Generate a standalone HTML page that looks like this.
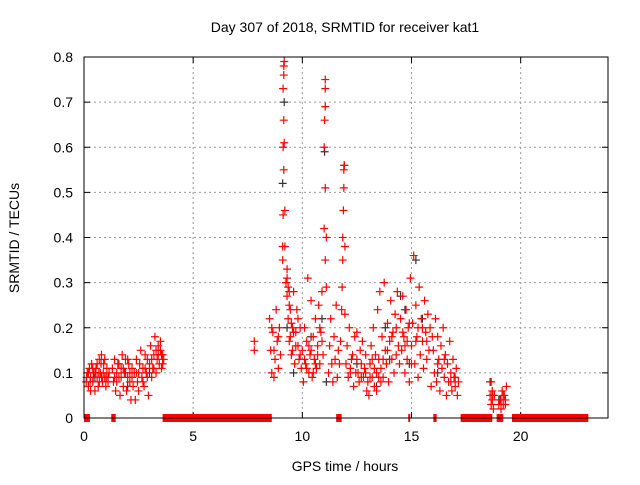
<!DOCTYPE html>
<html><head><meta charset="utf-8"><style>
body{margin:0;background:#fff;}
svg text{font-family:"Liberation Sans",sans-serif;font-size:14px;fill:#000;}
</style></head><body>
<svg id="chart" width="640" height="480" xmlns="http://www.w3.org/2000/svg">
<text x="345" y="32" text-anchor="middle">Day 307 of 2018, SRMTID for receiver kat1</text>
<text transform="translate(19,238) rotate(-90)" text-anchor="middle">SRMTID / TECUs</text>
<text x="345" y="471" text-anchor="middle">GPS time / hours</text>
<g id="grid"></g>
<g id="ticks"></g>
<g id="zeros"></g>
<g id="black"></g>
<g id="red"></g>
<rect x="84" y="57" width="524" height="361" fill="none" stroke="#000" stroke-width="1"/>
</svg>
<script>
const xTicks=[0,5,10,15,20];
const yTicks=[0,0.1,0.2,0.3,0.4,0.5,0.6,0.7,0.8];
const yTickLabels=["0","0.1","0.2","0.3","0.4","0.5","0.6","0.7","0.8"];
const zeroStart=[0,1.25,3.6,11.55,14.85,16.0,17.25,18.9,19.6];
const zeroEnd=[0.27,1.45,8.6,11.8,14.92,16.15,18.7,19.2,23.1];
const redPoints=[
[0.1,.08],[0.15,.10],[0.2,.07],[0.25,.11],[0.3,.09],[0.35,.12],[0.4,.08],[0.45,.10],[0.5,.06],[0.55,.11],[0.6,.09],[0.65,.07],[0.7,.13],[0.75,.10],[0.8,.14],[0.85,.08],[0.9,.12],[0.95,.09],[1.0,.07],[1.05,.11],[1.1,.08],[1.15,.10],
[0.2,.10],[0.3,.06],[0.4,.11],[0.6,.12],[0.7,.08],[0.8,.09],[0.95,.13],[1.1,.09],
[0.12,.09],[0.28,.08],[0.42,.09],[0.52,.10],[0.68,.10],[0.78,.12],[0.88,.10],[1.02,.09],
[1.3,.11],[1.35,.08],[1.4,.13],[1.45,.06],[1.5,.10],[1.55,.12],[1.6,.09],[1.65,.05],[1.7,.11],[1.75,.14],[1.8,.07],[1.85,.10],[1.9,.13],[1.95,.06],[2.0,.09],[2.05,.12],[2.1,.08],[2.15,.04],[2.2,.11],[2.25,.07],
[1.4,.09],[1.6,.12],[1.8,.11],[2.0,.13],[2.1,.10],[1.5,.08],[1.7,.09],[1.9,.10],[2.2,.09],
[2.3,.10],[2.35,.04],[2.4,.13],[2.45,.08],[2.5,.06],[2.55,.12],[2.6,.15],[2.65,.09],[2.7,.11],[2.75,.07],[2.8,.14],[2.85,.10],[2.9,.13],[2.95,.05],[3.0,.12],[3.05,.16],[3.1,.09],[3.15,.11],[3.2,.14],[3.25,.18],[3.3,.10],[3.35,.13],[3.4,.16],[3.45,.12],[3.5,.15],[3.55,.11],[3.6,.14],[3.65,.13],
[2.5,.10],[2.7,.08],[2.9,.09],[3.1,.13],[3.3,.15],[3.5,.17],[3.6,.12],[2.4,.10],[2.8,.11],[3.2,.11],[3.4,.14],[3.55,.14],
[7.8,.17],[7.8,.15],
[8.5,.22],[8.55,.15],[8.6,.10],[8.65,.19],[8.7,.09],[8.75,.13],[8.8,.24],[8.85,.17],[8.9,.11],[8.95,.20],[9.0,.14],[8.6,.20],[8.7,.15],[8.9,.18],
[9.1,.35],[9.1,.38],[9.12,.45],[9.15,.55],[9.12,.60],[9.15,.66],[9.12,.73],[9.15,.76],[9.15,.78],[9.17,.79],[9.2,.46],[9.2,.38],[9.17,.61],
[9.25,.30],[9.3,.27],[9.3,.33],[9.35,.22],[9.4,.25],[9.45,.18],[9.5,.21],[9.55,.15],[9.6,.28],[9.65,.12],[9.7,.19],[9.75,.24],[9.8,.16],[9.85,.13],[9.9,.20],[9.95,.11],[9.4,.17],[9.5,.14],[9.6,.19],[9.8,.22],
[9.3,.31],[9.35,.29],[9.4,.28],[9.45,.24],[9.55,.20],[9.7,.16],[9.9,.14],
[10.0,.15],[10.05,.08],[10.1,.20],[10.15,.12],[10.2,.17],[10.25,.31],[10.3,.10],[10.35,.14],[10.4,.26],[10.45,.09],[10.5,.18],[10.55,.13],[10.6,.22],[10.65,.11],[10.7,.16],[10.75,.25],[10.8,.12],[10.85,.19],[10.9,.28],[10.95,.14],
[10.2,.11],[10.4,.15],[10.6,.12],[10.8,.20],[10.1,.13],[10.3,.16],[10.5,.10],[10.7,.14],[10.9,.17],
[11.0,.42],[11.05,.51],[11.0,.60],[11.02,.66],[11.05,.69],[11.05,.73],[11.05,.75],[11.1,.40],[11.05,.35],[11.1,.29],
[11.2,.10],[11.25,.16],[11.3,.22],[11.35,.12],[11.4,.08],[11.45,.18],[11.5,.13],[11.55,.25],[11.6,.09],[11.65,.15],[11.7,.12],[11.75,.17],
[11.8,.24],[11.82,.29],[11.85,.35],[11.85,.40],[11.88,.46],[11.9,.51],[11.9,.55],[11.92,.56],[11.95,.38],[11.95,.23],
[12.0,.12],[12.05,.16],[12.1,.09],[12.15,.20],[12.2,.11],[12.3,.14],[12.35,.07],[12.4,.18],[12.45,.10],[12.5,.13],[12.6,.08],[12.65,.15],[12.7,.12],[12.75,.17],[12.8,.09],[12.85,.11],[12.9,.14],[12.95,.06],[12.5,.19],[12.2,.10],
[12.25,.13],[12.55,.10],[12.7,.09],[12.9,.10],
[13.0,.08],[13.05,.05],[13.1,.12],[13.15,.16],[13.2,.09],[13.25,.20],[13.3,.07],[13.35,.14],[13.4,.10],[13.45,.24],[13.5,.13],[13.55,.28],[13.6,.11],[13.65,.18],[13.7,.09],[13.75,.30],[13.8,.15],[13.85,.12],[13.9,.21],[13.95,.08],[14.0,.17],[14.05,.26],[14.1,.13],[14.15,.19],[14.2,.10],[14.25,.23],[14.3,.14],[14.35,.28],[14.4,.16],[14.45,.12],
[13.2,.13],[13.4,.06],[13.6,.08],[13.9,.15],[13.1,.09],[13.3,.11],[13.5,.09],[13.7,.13],[14.1,.18],[14.3,.20],
[14.5,.22],[14.55,.15],[14.6,.27],[14.65,.18],[14.7,.10],[14.75,.24],[14.8,.13],[14.85,.20],[14.9,.08],[14.95,.31],[15.0,.16],[15.1,.36],[15.05,.21],[15.15,.12],[15.2,.25],[15.25,.18],[15.3,.09],[15.35,.29],[15.4,.14],[15.45,.22],[15.5,.17],[15.55,.11],[15.6,.26],[15.65,.19],[15.7,.13],[15.75,.23],[15.8,.15],[15.85,.20],[15.9,.07],[15.95,.18],
[14.6,.19],[14.8,.17],[15.0,.12],[15.3,.20],[14.7,.16],[14.9,.21],[15.2,.17],[15.5,.20],[15.7,.17],
[16.0,.15],[16.05,.10],[16.1,.22],[16.15,.08],[16.2,.18],[16.25,.13],[16.3,.06],[16.35,.16],[16.4,.11],[16.45,.20],[16.5,.09],[16.55,.14],[16.6,.05],[16.65,.12],[16.7,.08],[16.75,.17],[16.8,.10],[16.85,.06],[16.9,.13],[16.95,.09],[17.0,.07],[17.05,.11],[17.1,.05],[17.15,.08],
[16.2,.12],[16.5,.13],[16.8,.08],[17.0,.09],
[18.6,.05],[18.65,.03],[18.65,.08],[18.7,.04],[18.7,.06],[18.75,.02],[18.8,.05],[19.0,.03],[19.05,.04],[19.1,.02],[19.15,.06],[19.2,.03],[19.25,.05],[19.3,.04],[19.35,.07],[19.3,.03],
[18.68,.05],[18.72,.05],[19.1,.04],[19.2,.05]
];
const blackPoints=[[0.5,.09],[2.0,.07],[3.0,.10],[9.1,.52],[9.17,.70],[9.3,.20],[9.6,.10],[10.4,.18],[10.9,.22],[11.02,.59],[11.1,.08],[11.92,.56],[12.5,.12],[13.4,.07],[13.8,.20],[14.0,.13],[14.5,.27],[14.7,.24],[14.9,.12],[15.2,.35],[15.5,.22],[16.2,.10],[18.6,.08],[19.0,.04]];
const NS="http://www.w3.org/2000/svg";
const X0=84,X1=608,Y0=418,Y1=57;
function xs(t){return X0+t/24*(X1-X0);}
function ys(v){return Y0-v/0.8*(Y0-Y1);}
function mk(tag,attrs,parent){const e=document.createElementNS(NS,tag);for(const k in attrs)e.setAttribute(k,attrs[k]);parent.appendChild(e);return e;}
const grid=document.getElementById('grid'),ticks=document.getElementById('ticks');
xTicks.forEach(t=>{const x=xs(t);
 if(t>0){const g=mk('line',{x1:x,x2:x,y1:Y1,y2:Y0,stroke:'#999','stroke-dasharray':'2,3'},grid);
 
 }
 mk('line',{x1:x,x2:x,y1:Y0,y2:Y0-6,stroke:'#000'},ticks);
 mk('line',{x1:x,x2:x,y1:Y1,y2:Y1+6,stroke:'#000'},ticks);
 const l=mk('text',{x:x,y:Y0+23,'text-anchor':'middle'},ticks);l.textContent=t;
 
 
});
yTicks.forEach((v,i)=>{const y=ys(v);
 if(v>0&&v<0.8){const g=mk('line',{x1:X0,x2:X1,y1:y,y2:y,stroke:'#999','stroke-dasharray':'2,3'},grid);
 
 }
 mk('line',{x1:X0,x2:X0+6,y1:y,y2:y,stroke:'#000'},ticks);
 mk('line',{x1:X1,x2:X1-6,y1:y,y2:y,stroke:'#000'},ticks);
 const l=mk('text',{x:X0-11,y:y+5,'text-anchor':'end'},ticks);l.textContent=yTickLabels[i];
 
 
});
const zg=document.getElementById('zeros');
zeroStart.forEach((s,i)=>{const a=xs(s),b=xs(zeroEnd[i]);
 const r=mk('rect',{x:a,y:ys(0)-4,width:Math.max(2,b-a),height:8,fill:'#f00'},zg);
 
 
});
function plus(p,color,parent){const x=xs(p[0]),y=ys(p[1]);
 const e=mk('path',{d:`M${x-4},${y}h8M${x},${y-4}v8`,stroke:color,'stroke-width':1.2,fill:'none'},parent);
 
 
}
const bg=document.getElementById('black'),rg=document.getElementById('red');
redPoints.forEach(p=>plus(p,'#f00',rg));
blackPoints.forEach(p=>plus(p,'#333',bg));
</script>
</body></html>
